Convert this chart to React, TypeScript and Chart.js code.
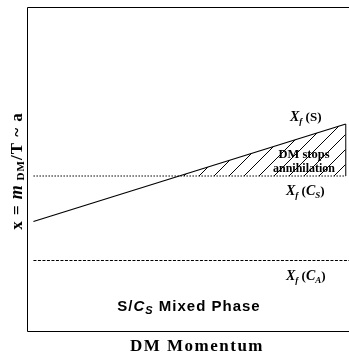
import React, { useEffect, useRef } from "react";
import { Chart, registerables } from "chart.js";

Chart.register(...registerables);

// DM momentum (arbitrary units) at the two ends of the freeze-out curve
const momentum = [2, 99];
// x_f(S): freeze-out of the symmetric phase, rising with momentum
const freezeoutS = [34, 64];
// x_f(C_S) and x_f(C_A): flat freeze-out levels
const freezeoutCS = 48;
const freezeoutCA = 22;
const dashedSpan = [2, 100];

const SERIF = "'Liberation Serif', 'Times New Roman', serif";
const SANS = "'Liberation Sans', Arial, sans-serif";

type Run = { text: string; font: string; dy?: number };

function runsWidth(ctx: CanvasRenderingContext2D, runs: Run[]) {
  let w = 0;
  for (const r of runs) {
    ctx.font = r.font;
    w += ctx.measureText(r.text).width;
  }
  return w;
}

function drawRuns(ctx: CanvasRenderingContext2D, runs: Run[], x: number, y: number, align: "left" | "center" = "left") {
  let cx = align === "center" ? x - runsWidth(ctx, runs) / 2 : x;
  ctx.textAlign = "left";
  ctx.textBaseline = "alphabetic";
  for (const r of runs) {
    ctx.font = r.font;
    ctx.fillText(r.text, cx, y + (r.dy || 0));
    cx += ctx.measureText(r.text).width;
  }
}

function makeHatch(): CanvasPattern | string {
  const size = 15;
  const c = document.createElement("canvas");
  c.width = size;
  c.height = size;
  const g = c.getContext("2d");
  if (!g) return "transparent";
  g.strokeStyle = "#000";
  g.lineWidth = 1;
  g.beginPath();
  g.moveTo(0, size);
  g.lineTo(size, 0);
  g.moveTo(-2, 2);
  g.lineTo(2, -2);
  g.moveTo(size - 2, size + 2);
  g.lineTo(size + 2, size - 2);
  g.stroke();
  const p = g.createPattern(c, "repeat");
  return p || "transparent";
}

const annotations = {
  id: "phaseAnnotations",
  afterDraw(chart: Chart) {
    const ctx = chart.ctx as any;
    const { left, top, bottom } = chart.chartArea;
    const W = chart.width;
    ctx.save();
    ctx.fillStyle = "#000";
    ctx.strokeStyle = "#000";
    ctx.lineWidth = 1;

    // frame: left, top and bottom edges
    ctx.beginPath();
    ctx.moveTo(W, top + 0.5);
    ctx.lineTo(left + 0.5, top + 0.5);
    ctx.lineTo(left + 0.5, bottom - 0.5);
    ctx.lineTo(W, bottom - 0.5);
    ctx.stroke();

    const bi = (s: number) => `italic bold ${s}px ${SERIF}`;
    const b = (s: number) => `bold ${s}px ${SERIF}`;

    drawRuns(ctx, [
      { text: "X", font: bi(14) },
      { text: "f", font: bi(9), dy: 3 },
      { text: " (S)", font: b(13) },
    ], 290, 121);

    drawRuns(ctx, [
      { text: "X", font: bi(14) },
      { text: "f", font: bi(9), dy: 3 },
      { text: " (", font: b(13) },
      { text: "C", font: bi(14) },
      { text: "S", font: bi(9), dy: 3 },
      { text: ")", font: b(13) },
    ], 286, 195);

    drawRuns(ctx, [
      { text: "X", font: bi(14) },
      { text: "f", font: bi(9), dy: 3 },
      { text: " (", font: b(13) },
      { text: "C", font: bi(14) },
      { text: "A", font: bi(9), dy: 3 },
      { text: ")", font: b(13) },
    ], 286, 280);

    drawRuns(ctx, [{ text: "DM stops", font: b(12.5) }], 304, 158, "center");
    drawRuns(ctx, [{ text: "annihilation", font: b(12) }], 304, 172, "center");

    // phase label
    ctx.letterSpacing = "1px";
    drawRuns(ctx, [
      { text: "S/", font: `bold 15px ${SANS}` },
      { text: "C", font: `italic bold 15px ${SANS}` },
      { text: "S", font: `italic bold 11px ${SANS}`, dy: 3 },
      { text: " Mixed Phase", font: `bold 15px ${SANS}` },
    ], 189, 311, "center");

    // x axis title
    ctx.letterSpacing = "1.5px";
    drawRuns(ctx, [{ text: "DM Momentum", font: b(17) }], 197, 351, "center");

    // y axis title
    ctx.letterSpacing = "1px";
    ctx.save();
    ctx.translate(22, 171);
    ctx.rotate(-Math.PI / 2);
    drawRuns(ctx, [
      { text: "x = ", font: b(17) },
      { text: "m", font: bi(18) },
      { text: " DM", font: b(11), dy: 2 },
      { text: "/T ~ a", font: b(17) },
    ], 0, 0, "center");
    ctx.restore();
    ctx.letterSpacing = "0px";

    ctx.restore();
  },
};

export default function App() {
  const ref = useRef<HTMLCanvasElement>(null);

  useEffect(() => {
    if (!ref.current) return;
    const hatch = makeHatch();
    const lastX = momentum[momentum.length - 1];
    const lastS = freezeoutS[freezeoutS.length - 1];
    const chart = new Chart(ref.current, {
      type: "line",
      data: {
        datasets: [
          {
            label: "x_f(S)",
            data: momentum.map((m, i) => ({ x: m, y: freezeoutS[i] })),
            borderColor: "#000",
            borderWidth: 1.3,
            pointRadius: 0,
            fill: { target: 1, above: hatch as any, below: "rgba(0,0,0,0)" },
          },
          {
            label: "x_f(C_S)",
            data: momentum.map((m) => ({ x: m, y: freezeoutCS })),
            borderColor: "#000",
            borderWidth: 1,
            borderDash: [1.5, 1.5],
            pointRadius: 0,
            fill: false,
          },
          {
            label: "x_f(C_A)",
            data: dashedSpan.map((m) => ({ x: m, y: freezeoutCA })),
            borderColor: "#000",
            borderWidth: 1,
            borderDash: [3, 1.5],
            pointRadius: 0,
            fill: false,
          },
          {
            label: "edge",
            data: [
              { x: lastX, y: freezeoutCS },
              { x: lastX, y: lastS },
            ],
            borderColor: "#000",
            borderWidth: 1,
            pointRadius: 0,
            fill: false,
          },
        ],
      },
      options: {
        animation: false,
        responsive: false,
        devicePixelRatio: 1,
        layout: { padding: { left: 27, top: 7, right: 0, bottom: 20 } },
        plugins: { legend: { display: false }, tooltip: { enabled: false } },
        scales: {
          x: { type: "linear", min: 0, max: 100, display: false },
          y: { type: "linear", min: 0, max: 100, display: false },
        },
      },
      plugins: [annotations],
    });
    return () => chart.destroy();
  }, []);

  return (
    <div style={{ position: "absolute", left: 0, top: 0, width: 349, height: 352, background: "#fff" }}>
      <canvas ref={ref} width={349} height={352} style={{ display: "block" }} />
    </div>
  );
}
